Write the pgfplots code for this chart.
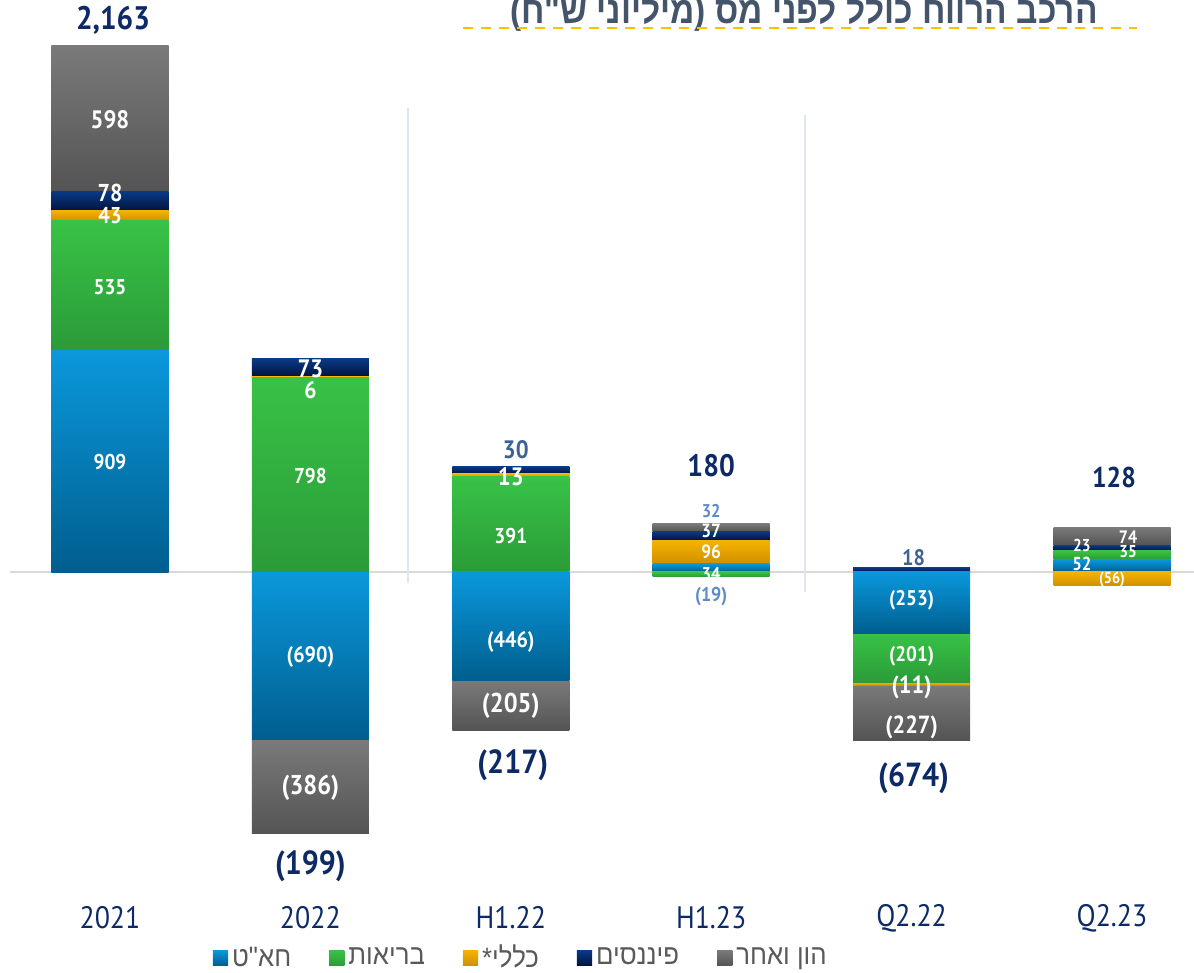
\documentclass[border=0pt]{standalone}
\usepackage{fontspec}
\usepackage{pgfplots}
\pgfplotsset{compat=1.18}
\TeXXeTstate=1
\setmainfont{PT Sans}[FakeStretch=0.9]
\newfontfamily\hebfont{Liberation Sans}[Script=Hebrew,FakeStretch=0.92]
\newfontfamily\titlefont{Liberation Sans}[Script=Hebrew,FakeStretch=0.88]

\definecolor{bluetop}{HTML}{0A98DC}
\definecolor{bluebot}{HTML}{005E8E}
\definecolor{greentop}{HTML}{38C246}
\definecolor{greenbot}{HTML}{2B9B38}
\definecolor{yellowtop}{HTML}{F5B300}
\definecolor{yellowbot}{HTML}{D18F00}
\definecolor{navytop}{HTML}{0A3A85}
\definecolor{navybot}{HTML}{00143F}
\definecolor{graytop}{HTML}{7A7A7A}
\definecolor{graybot}{HTML}{545454}
\definecolor{totnavy}{HTML}{0D2A66}
\definecolor{slate}{HTML}{3D6294}
\definecolor{steel}{HTML}{5B8BC9}
\definecolor{titlecol}{HTML}{44546A}
\definecolor{legtext}{HTML}{595959}
\definecolor{zeroline}{HTML}{D9D9D9}
\definecolor{sepline}{HTML}{DDE7F1}
\definecolor{dashcol}{HTML}{FFC000}

% same frame for all overlaid axes: 1px of the reference = 0.5pt
\pgfplotsset{
  frame/.style={scale only axis, width=597pt, height=486.5pt,
    xmin=-0.5489, xmax=5.4092, ymin=-1648.8, ymax=2352,
    hide axis, clip=false, at={(0,0)}, anchor=south west},
  stackaxis/.style={frame, ybar stacked, bar width=0.584},
  seg/.style 2 args={draw=none, top color=#1, bottom color=#2,
    legend image code/.code={\fill[draw=none, top color=#1, bottom color=#2] (0pt,-3.8pt) rectangle (7.6pt,3.8pt);}},
  sb/.style={seg={bluetop}{bluebot}},
  sg/.style={seg={greentop}{greenbot}},
  sy/.style={seg={yellowtop}{yellowbot}},
  sn/.style={seg={navytop}{navybot}},
  sk/.style={seg={graytop}{graybot}},
}

% value labels: size, colour, x, y, text
\newcommand{\lbl}[5]{\node[font={\fontsize{#1}{#1}\selectfont\bfseries}, text=#2, inner sep=0pt] at (axis cs:#3,#4) {#5};}
\newcommand{\cat}[2]{\node[font={\fontsize{15.5}{16}\selectfont}, text=totnavy, inner sep=0pt] at (axis cs:#1,-1423) {#2};}

\begin{document}
\begin{tikzpicture}

% background: zero line, separators, title, category names
\begin{axis}[frame]
  \draw[zeroline, line width=1pt] (axis cs:-0.499,0) -- (axis cs:5.4092,0);
  \draw[sepline, line width=1pt] (axis cs:1.487,1908) -- (axis cs:1.487,-45);
  \draw[sepline, line width=1pt] (axis cs:3.468,1879) -- (axis cs:3.468,-82);
  \node[anchor=base east, inner sep=0pt, text=titlecol,
        font={\titlefont\bfseries\fontsize{19}{21}\selectfont}]
        at (axis cs:4.93,2257) {\beginR הרכב הרווח כולל לפני מס (מיליוני ש"ח)\endR};
  \draw[dashcol, line width=1.2pt, dash pattern=on 5pt off 4pt]
        (axis cs:1.761,2237) -- (axis cs:5.125,2237);
  \cat{0}{2021}
  \cat{1}{2022}
  \cat{2}{H1.22}
  \cat{3}{H1.23}
  \cat{4}{Q2.22}
  \cat{5}{Q2.23}
\end{axis}

% one stack per period and sign, so that every segment gets its own gradient
% 2021 (carries the legend)
\begin{axis}[stackaxis,
  legend columns=5,
  legend style={at={(0.178,0.0154)}, anchor=west, draw=none, fill=none,
    inner sep=0pt, text=legtext,
    font={\hebfont\fontsize{14}{16}\selectfont},
    /tikz/every even column/.append style={column sep=17pt}},
  legend cell align=left]
  \addplot[sb] coordinates {(0,909)};
  \addlegendentry{\beginR חא"ט\endR}
  \addplot[sg] coordinates {(0,535)};
  \addlegendentry{\beginR בריאות\endR}
  \addplot[sy] coordinates {(0,43)};
  \addlegendentry{\beginR כללי*\endR}
  \addplot[sn] coordinates {(0,78)};
  \addlegendentry{\beginR פיננסים\endR}
  \addplot[sk] coordinates {(0,598)};
  \addlegendentry{\beginR הון ואחר\endR}
\end{axis}

% 2022
\begin{axis}[stackaxis]
  \addplot[sg] coordinates {(1,798)};
  \addplot[sy] coordinates {(1,6)};
  \addplot[sn] coordinates {(1,73)};
\end{axis}
\begin{axis}[stackaxis]
  \addplot[sb] coordinates {(1,-690)};
  \addplot[sk] coordinates {(1,-386)};
\end{axis}

% H1.22
\begin{axis}[stackaxis]
  \addplot[sg] coordinates {(2,391)};
  \addplot[sy] coordinates {(2,13)};
  \addplot[sn] coordinates {(2,30)};
\end{axis}
\begin{axis}[stackaxis]
  \addplot[sb] coordinates {(2,-446)};
  \addplot[sk] coordinates {(2,-205)};
\end{axis}

% H1.23
\begin{axis}[stackaxis]
  \addplot[sb] coordinates {(3,34)};
  \addplot[sy] coordinates {(3,96)};
  \addplot[sn] coordinates {(3,37)};
  \addplot[sk] coordinates {(3,32)};
\end{axis}
\begin{axis}[stackaxis]
  \addplot[sg] coordinates {(3,-19)};
\end{axis}

% Q2.22
\begin{axis}[stackaxis]
  \addplot[sn] coordinates {(4,18)};
\end{axis}
\begin{axis}[stackaxis]
  \addplot[sb] coordinates {(4,-253)};
  \addplot[sg] coordinates {(4,-201)};
  \addplot[sy] coordinates {(4,-11)};
  \addplot[sk] coordinates {(4,-227)};
\end{axis}

% Q2.23
\begin{axis}[stackaxis]
  \addplot[sb] coordinates {(5,52)};
  \addplot[sg] coordinates {(5,35)};
  \addplot[sn] coordinates {(5,23)};
  \addplot[sk] coordinates {(5,74)};
\end{axis}
\begin{axis}[stackaxis]
  \addplot[sy] coordinates {(5,-56)};
\end{axis}

% value labels on top of everything
\begin{axis}[frame]
  \lbl{16.3}{totnavy}{0.015}{2270}{2,163}
  \lbl{12.6}{white}{0}{1859}{598}
  \lbl{12.2}{white}{0}{1558}{78}
  \lbl{11.4}{white}{0}{1464}{43}
  \lbl{10.7}{white}{0}{1172}{535}
  \lbl{10.7}{white}{0}{452}{909}

  \lbl{12.6}{white}{1}{835}{73}
  \lbl{12}{white}{1}{748}{6}
  \lbl{10.7}{white}{1}{395}{798}
  \lbl{11.2}{white}{1}{-350}{(690)}
  \lbl{13.6}{white}{1}{-888}{(386)}
  \lbl{16.7}{totnavy}{1}{-1209}{(199)}

  \lbl{12.6}{slate}{2.025}{502}{30}
  \lbl{12.6}{white}{2}{391}{13}
  \lbl{10.7}{white}{2}{148}{391}
  \lbl{11.2}{white}{2}{-288}{(446)}
  \lbl{13.6}{white}{2}{-551}{(205)}
  \lbl{16.7}{totnavy}{2.01}{-794}{(217)}

  \lbl{15.5}{totnavy}{3}{436}{180}
  \lbl{9.2}{steel}{3}{251}{32}
  \lbl{9.6}{white}{3}{169}{37}
  \lbl{9.6}{white}{3}{82}{96}
  \lbl{9.2}{white}{3}{-8}{34}
  \lbl{10}{steel}{3}{-103}{(19)}

  \lbl{11.2}{slate}{4.01}{58}{18}
  \lbl{10.6}{white}{4}{-115}{(253)}
  \lbl{10.6}{white}{4}{-345}{(201)}
  \lbl{12.4}{white}{4}{-473}{(11)}
  \lbl{12.4}{white}{4}{-637}{(227)}
  \lbl{16.7}{totnavy}{4.01}{-847}{(674)}

  \lbl{14.3}{totnavy}{5.01}{387}{128}
  \lbl{9}{white}{5.08}{144}{74}
  \lbl{8.6}{white}{4.85}{107}{23}
  \lbl{8.6}{white}{5.08}{82}{35}
  \lbl{9.4}{white}{4.85}{33}{52}
  \lbl{8}{white}{5}{-29}{(56)}
\end{axis}

\pgfresetboundingbox
\useasboundingbox (0,0) rectangle (597pt,486.5pt);
\end{tikzpicture}
\end{document}
